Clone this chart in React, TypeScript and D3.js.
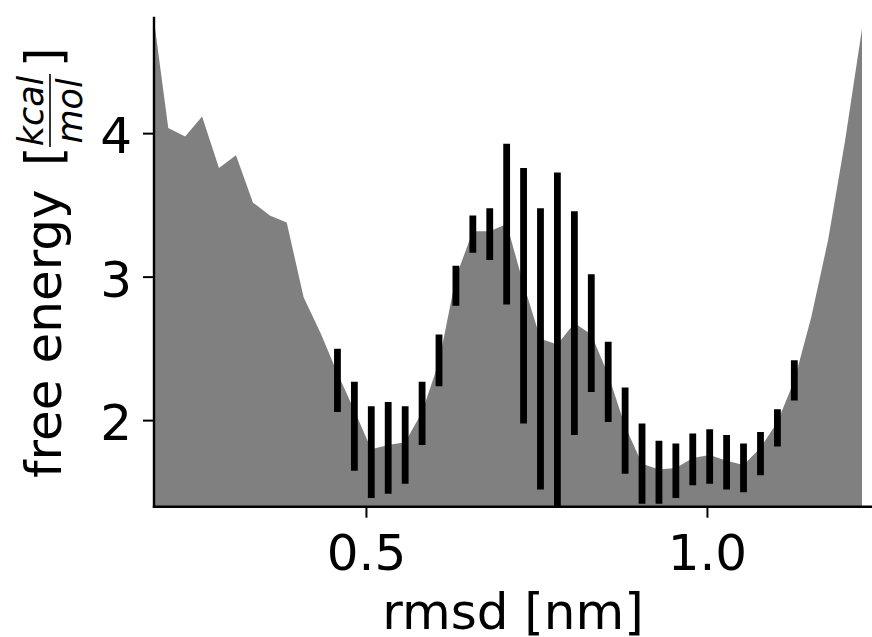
import React from "react";
import * as d3 from "d3";

// free energy profile along rmsd (bin centres)
const rmsd = [
  0.1846, 0.2094, 0.2342, 0.259, 0.2838, 0.3087, 0.3335, 0.3583, 0.3831, 0.4079,
  0.4327, 0.4575, 0.4823, 0.5071, 0.5319, 0.5568, 0.5816, 0.6064, 0.6312, 0.656,
  0.6808, 0.7056, 0.7304, 0.7552, 0.78, 0.8049, 0.8297, 0.8545, 0.8793, 0.9041,
  0.9289, 0.9537, 0.9785, 1.0033, 1.0281, 1.0529, 1.0778, 1.1026, 1.1274, 1.1522,
  1.177, 1.2018, 1.2266,
];
const freeEnergy = [
  4.93, 4.04, 3.98, 4.12, 3.76, 3.85, 3.52, 3.43, 3.38, 2.86,
  2.61, 2.33, 2.07, 1.8, 1.83, 1.85, 2.06, 2.41, 3.0, 3.32,
  3.32, 3.37, 2.95, 2.57, 2.53, 2.68, 2.6, 2.32, 1.96, 1.7,
  1.66, 1.67, 1.74, 1.76, 1.72, 1.69, 1.81, 1.99, 2.28, 2.72,
  3.26, 3.95, 4.73,
];

// error bars (mean +- err)
const barRmsd = rmsd.slice(11, 39);
const barMean = [
  2.28, 1.96, 1.78, 1.81, 1.83, 2.05, 2.42, 2.94, 3.3, 3.3,
  3.37, 2.87, 2.5, 2.55, 2.68, 2.61, 2.27, 1.93, 1.7, 1.64,
  1.65, 1.73, 1.75, 1.71, 1.67, 1.77, 1.95, 2.28,
];
const barErr = [
  0.22, 0.31, 0.32, 0.32, 0.27, 0.22, 0.18, 0.14, 0.13, 0.18,
  0.56, 0.89, 0.98, 1.18, 0.78, 0.41, 0.28, 0.3, 0.28, 0.22,
  0.19, 0.18, 0.19, 0.19, 0.17, 0.15, 0.13, 0.14,
];

const xTicks = [0.5, 1.0];
const yTicks = [2, 3, 4];

const FONT = "DejaVu Sans";

export default function App() {
  const width = 872;
  const height = 637;
  const left = 154;
  const right = 872;
  const top = 18;
  const bottom = 506.7;

  const x = d3.scaleLinear().domain([0.1885, 1.2413]).range([left, right]);
  const y = d3.scaleLinear().domain([1.4, 4.806]).range([bottom, top]);

  const area = d3
    .area<number>()
    .x((d, i) => x(rmsd[i]))
    .y0(y(y.domain()[0]))
    .y1((d) => y(d));

  return (
    <svg
      width={width}
      height={height}
      style={{ position: "absolute", left: 0, top: 0, background: "#fff" }}
      fontFamily={FONT}
    >
      <defs>
        <clipPath id="plot">
          <rect x={left} y={top} width={right - left} height={bottom - top} />
        </clipPath>
      </defs>

      <g clipPath="url(#plot)">
        <path d={area(freeEnergy) || ""} fill="#808080" />
        {barRmsd.map((r, i) => (
          <line
            key={i}
            x1={x(r)}
            x2={x(r)}
            y1={y(barMean[i] - barErr[i])}
            y2={y(barMean[i] + barErr[i])}
            stroke="#000"
            strokeWidth={6.8}
          />
        ))}
      </g>

      {/* spines */}
      <line x1={left} x2={left} y1={top} y2={bottom} stroke="#000" strokeWidth={2.4} strokeLinecap="square" />
      <line x1={left} x2={right} y1={bottom} y2={bottom} stroke="#000" strokeWidth={2.4} strokeLinecap="square" />

      {/* x ticks */}
      {xTicks.map((t) => (
        <g key={t}>
          <line x1={x(t)} x2={x(t)} y1={bottom} y2={bottom + 11} stroke="#000" strokeWidth={2} />
          <text x={x(t)} y={570} textAnchor="middle" fontSize={50}>
            {d3.format(".1f")(t)}
          </text>
        </g>
      ))}

      {/* y ticks */}
      {yTicks.map((t) => (
        <g key={t}>
          <line x1={left - 11} x2={left} y1={y(t)} y2={y(t)} stroke="#000" strokeWidth={2} />
          <text x={132} y={y(t) + 19.5} textAnchor="end" fontSize={50}>
            {t}
          </text>
        </g>
      ))}

      {/* axis labels */}
      <text x={(left + right) / 2} y={629} textAnchor="middle" fontSize={50}>
        rmsd [nm]
      </text>

      <g transform="translate(61,0) rotate(-90)">
        <text x={-478} y={0} fontSize={50}>
          free energy
        </text>
        <text x={-166} y={0} fontSize={50}>
          [
        </text>
        <text x={-111} y={-18} fontSize={35} fontStyle="italic" textAnchor="middle">
          kcal
        </text>
        <line x1={-147} x2={-74} y1={-11} y2={-11} stroke="#000" strokeWidth={1.6} />
        <text x={-111} y={21} fontSize={35} fontStyle="italic" textAnchor="middle">
          mol
        </text>
        <text x={-67} y={0} fontSize={50}>
          ]
        </text>
      </g>
    </svg>
  );
}
